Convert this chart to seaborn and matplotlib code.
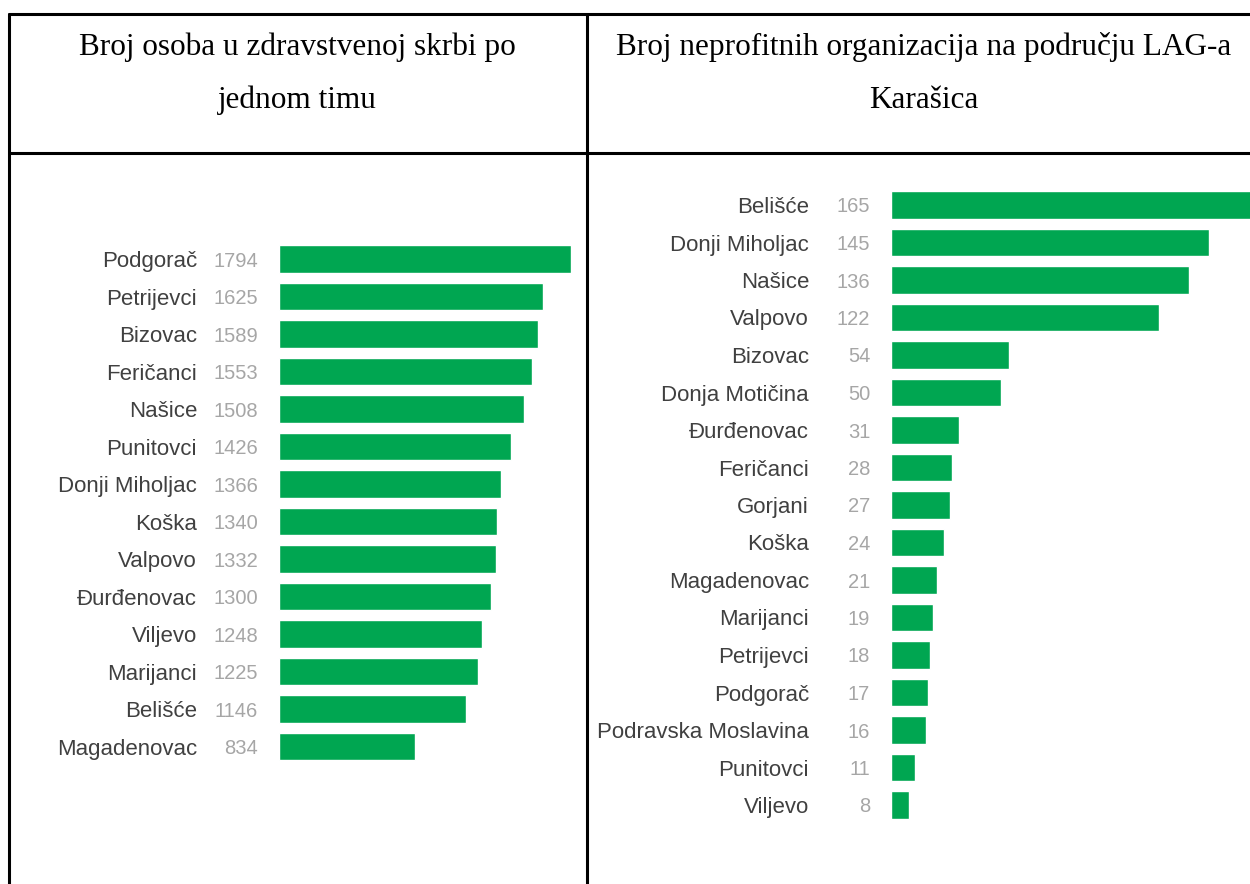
import matplotlib
matplotlib.use('Agg')
import matplotlib.pyplot as plt
from matplotlib.lines import Line2D
import seaborn as sns

# data
health_towns = ['Podgorač', 'Petrijevci', 'Bizovac', 'Feričanci', 'Našice', 'Punitovci',
                'Donji Miholjac', 'Koška', 'Valpovo', 'Đurđenovac', 'Viljevo', 'Marijanci',
                'Belišće', 'Magadenovac']
health_values = [1794, 1625, 1589, 1553, 1508, 1426, 1366, 1340, 1332, 1300, 1248, 1225, 1146, 834]

ngo_towns = ['Belišće', 'Donji Miholjac', 'Našice', 'Valpovo', 'Bizovac', 'Donja Motičina',
             'Đurđenovac', 'Feričanci', 'Gorjani', 'Koška', 'Magadenovac', 'Marijanci',
             'Petrijevci', 'Podgorač', 'Podravska Moslavina', 'Punitovci', 'Viljevo']
ngo_values = [165, 145, 136, 122, 54, 50, 31, 28, 27, 24, 21, 19, 18, 17, 16, 11, 8]

title_left = ['Broj osoba u zdravstvenoj skrbi po', 'jednom timu']
title_right = ['Broj neprofitnih organizacija na području LAG-a', 'Karašica']

sns.set_style('white')

W, H = 1250, 884
fig = plt.figure(figsize=(W / 100, H / 100), dpi=100)

GREEN = '#00a651'
LABEL = '#404040'
VALUE = '#a6a6a6'


def px_axes(x0, x1, y0, y1):
    # pixel box (top-left origin) -> figure axes
    return fig.add_axes([x0 / W, 1 - y1 / H, (x1 - x0) / W, (y1 - y0) / H])


def draw_bars(ax, towns, values, xmax):
    sns.barplot(x=values, y=towns, color=GREEN, orient='h', width=0.74,
                saturation=1, ax=ax)
    ax.set_xlim(0, xmax)
    ax.set_ylim(len(towns) - 0.5, -0.5)
    ax.set_xticks([])
    ax.set_xlabel('')
    ax.set_ylabel('')
    ax.tick_params(axis='y', length=0, pad=59)
    for lab in ax.get_yticklabels():
        lab.set_fontfamily(['Liberation Sans', 'DejaVu Sans'])
        lab.set_fontsize(16)
        lab.set_color(LABEL)
    for i, v in enumerate(values):
        ax.annotate(str(v), xy=(0, i), xycoords=ax.get_yaxis_transform(),
                    xytext=(-15, 0), textcoords='offset points', ha='right',
                    va='center_baseline', fontsize=14.5, color=VALUE,
                    family=['Liberation Sans Narrow', 'Liberation Sans', 'DejaVu Sans'])
    sns.despine(ax=ax, left=True, bottom=True)


step = 37.5
ax1 = px_axes(279, 571, 259 - step / 2, 259 + 13 * step + step / 2)
draw_bars(ax1, health_towns, health_values, 1794)

ax2 = px_axes(891, 1250, 205 - step / 2, 205 + 16 * step + step / 2)
draw_bars(ax2, ngo_towns, ngo_values, 359 / 2.193)

# table borders
lw = 2.2
for xs, ys in [([9, W], [14, 14]), ([9, W], [153, 153]),
               ([9, 9], [14, H]), ([587, 587], [14, H])]:
    fig.add_artist(Line2D([x / W for x in xs], [1 - y / H for y in ys],
                          color='black', lw=lw, transform=fig.transFigure))

serif = ['Liberation Serif', 'DejaVu Serif']
for cx, lines in [(297, title_left), (924, title_right)]:
    for k, t in enumerate(lines):
        fig.text(cx / W, 1 - (55 + 53 * k) / H, t, ha='center', va='baseline',
                 fontsize=22.5, family=serif, color='black')

fig.savefig('out.png', dpi=100)
